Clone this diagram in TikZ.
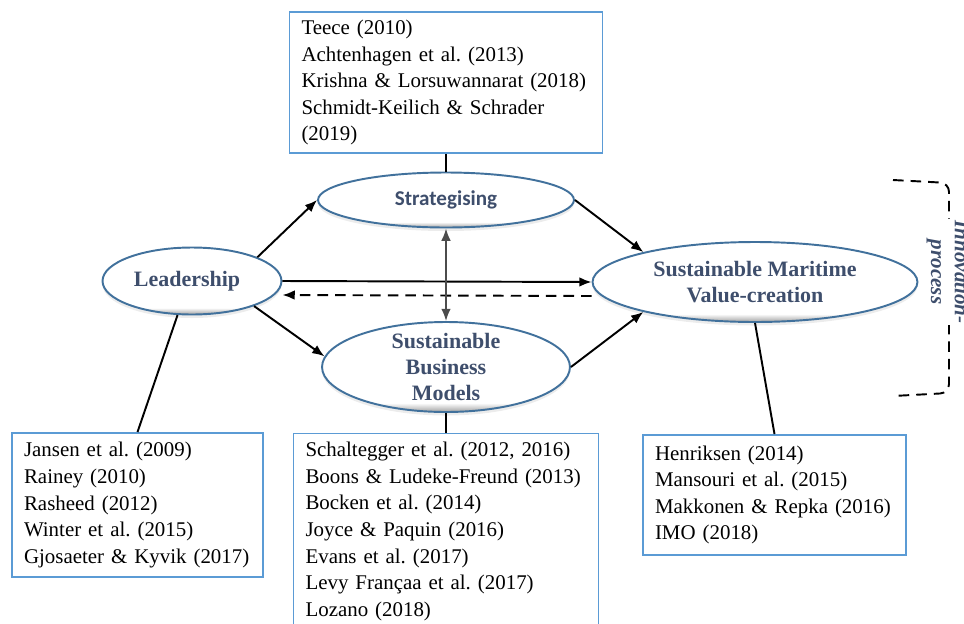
\documentclass[tikz,border=0pt]{standalone}
\usepackage{fontspec}
\setmainfont{Liberation Serif}[BoldFont={Liberation Serif Bold},
  ItalicFont={Liberation Serif Italic}, BoldItalicFont={Liberation Serif Bold Italic}]
\newfontfamily\calibfont{Carlito}
\usepackage{tikz}
\usetikzlibrary{shapes,arrows.meta,positioning,shadows,calc}
\frenchspacing
\definecolor{ovalblue}{RGB}{65,113,156}
\definecolor{boxblue}{RGB}{91,155,213}
\definecolor{ovaltext}{RGB}{62,78,108}
\definecolor{rimgray}{RGB}{160,160,160}
\pgfdeclareverticalshading{ovalrim}{100bp}{color(0bp)=(rimgray); color(25bp)=(rimgray);
    color(30bp)=(white); color(100bp)=(white)}
\newcommand{\reffont}{\fontsize{11.9}{15.1}\selectfont}
\newcommand{\ovalfont}{\fontsize{12.5}{14.8}\selectfont\bfseries}
\tikzstyle{oval} = [ellipse, draw=ovalblue, line width=1.1pt, shade, shading=ovalrim,
    drop shadow={shadow xshift=0pt, shadow yshift=-2pt, opacity=.15}, inner sep=0pt]
\tikzstyle{ovaltxt} = [font=\ovalfont, text=ovaltext, align=center]
\tikzstyle{refbox} = [rectangle, draw=boxblue, line width=1.1pt, fill=white,
    align=left, font=\reffont, inner xsep=0.24cm, inner ysep=2pt]
\tikzstyle{link} = [draw, line width=1.1pt, -{Latex[length=7pt,width=5.5pt]}]
\tikzstyle{plain} = [draw, line width=1.1pt]

\begin{document}
\begin{tikzpicture}[x=0.02cm, y=-0.02cm]
  \clip (0,0) rectangle (964,623);
  % Place ovals
  \node [oval, minimum width=3.58cm, minimum height=1.34cm,
    label={[ovaltxt, xshift=-0.1cm]center:Leadership}] (lead) at (192,281) {};
  \node [oval, minimum width=5.12cm, minimum height=1.1cm,
    label={[ovaltxt, font={\calibfont\fontsize{12}{14}\selectfont\bfseries}]center:Strategising}]
    (strat) at (446,200) {};
  \node [oval, minimum width=4.96cm, minimum height=1.8cm,
    label={[ovaltxt]center:{Sustainable\\Business\\Models}}] (sbm) at (446,367) {};
  \node [oval, minimum width=6.5cm, minimum height=1.6cm,
    label={[ovaltxt]center:{Sustainable Maritime\\Value-creation}}] (smv) at (755,282) {};
  % Place boxes
  \node [refbox, text width=5.78cm, minimum height=2.82cm, above of=strat, node distance=2.35cm]
    (topbox) {Teece (2010)\\Achtenhagen et al. (2013)\\Krishna \& Lorsuwannarat (2018)\\
    Schmidt-Keilich \& Schrader\\(2019)};
  \node [refbox, text width=4.54cm, minimum height=2.88cm] (leftbox) at (137.5,505)
    {Jansen et al. (2009)\\Rainey (2010)\\Rasheed (2012)\\Winter et al. (2015)\\
    Gjosaeter \& Kyvik (2017)};
  \node [refbox, text width=5.62cm, minimum height=3.92cm, below of=sbm, node distance=3.29cm]
    (midbox) {Schaltegger et al. (2012, 2016)\\Boons \& Ludeke-Freund (2013)\\
    Bocken et al. (2014)\\Joyce \& Paquin (2016)\\Evans et al. (2017)\\
    Levy Françaa et al. (2017)\\Lozano (2018)};
  \node [refbox, text width=4.78cm, minimum height=2.4cm] (rightbox) at (774.5,495)
    {Henriksen (2014)\\Mansouri et al. (2015)\\Makkonen \& Repka (2016)\\IMO (2018)};
  % Draw edges
  \draw [link] (lead.20) -- (strat.west);
  \draw [link] (strat.east) -- (smv.165);
  \draw [link] (lead.-22) -- (sbm.175);
  \draw [link] (sbm.east) -- (smv.195);
  \draw [link] (lead.east) -- (smv.west);
  \draw [link, dash pattern=on 6pt off 4pt] ($(smv.west)+(0,14)$) -- ($(lead.east)+(0,14)$);
  \draw [{Latex[length=7pt,width=5.5pt]}-{Latex[length=7pt,width=5.5pt]}, line width=1pt,
    draw=black!70] (strat) -- (sbm);
  \draw [plain] (topbox) -- (strat);
  \draw [plain] (lead.247) -- (leftbox.north);
  \draw [plain] (sbm) -- (midbox);
  \draw [plain] (smv.south) -- (rightbox.north);
  % Innovation bracket
  \draw [line width=1.1pt, dash pattern=on 6pt off 4pt, rounded corners=5pt]
    (893,180) -- (949,183) -- (949,393) -- (893,396);
  \node [rotate=-90, fill=white, inner sep=1pt, align=center, text=ovaltext,
    font=\fontsize{12}{13.5}\selectfont\bfseries\itshape] (innov) at (948,272)
    {Innovation-\\process};
\end{tikzpicture}
\end{document}
